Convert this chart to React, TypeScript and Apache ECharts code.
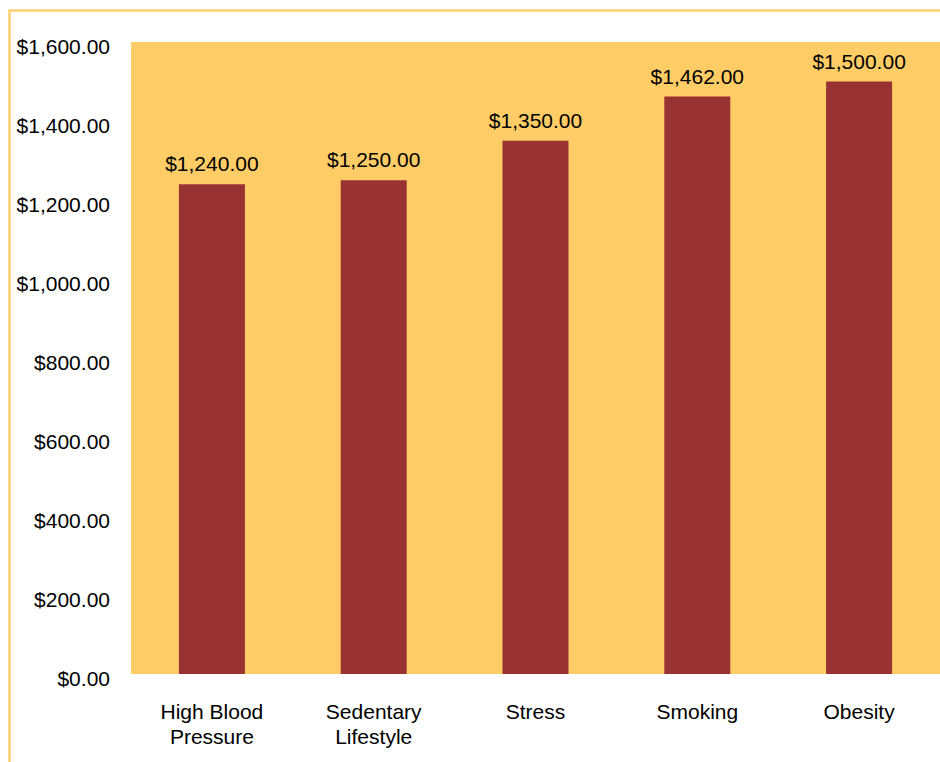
import React, { useEffect, useRef } from "react";
import * as echarts from "echarts";

const categories = ["High Blood\nPressure", "Sedentary\nLifestyle", "Stress", "Smoking", "Obesity"];
const costs = [1240, 1250, 1350, 1462, 1500];
const yMin = 0;
const yMax = 1600;
const yStep = 200;

const money = (v: number) =>
  "$" + v.toLocaleString("en-US", { minimumFractionDigits: 2, maximumFractionDigits: 2 });

export default function App() {
  const ref = useRef<HTMLDivElement>(null);
  useEffect(() => {
    if (!ref.current) return;
    const chart = echarts.init(ref.current, null, { renderer: "svg" });
    const font = "'Liberation Sans', Arial, Helvetica, sans-serif";
    chart.setOption({
      animation: false,
      backgroundColor: "#ffffff",
      textStyle: { fontFamily: font },
      graphic: [
        {
          type: "rect",
          shape: { x: 9.5, y: 10.5, width: 1000, height: 800 },
          style: { fill: "none", stroke: "#ffd070", lineWidth: 2.5 },
          silent: true,
          z: 0,
        },
      ],
      grid: {
        left: 131,
        right: -1,
        top: 42,
        bottom: 88,
        show: true,
        backgroundColor: "#ffcc66",
        borderWidth: 0,
      },
      xAxis: {
        type: "category",
        data: categories,
        axisLine: { show: false },
        axisTick: { show: false },
        axisLabel: {
          color: "#000",
          fontSize: 21,
          lineHeight: 25,
          margin: 25,
          fontFamily: font,
          interval: 0,
        },
      },
      yAxis: {
        type: "value",
        min: yMin,
        max: yMax,
        interval: yStep,
        axisLine: { show: false },
        axisTick: { show: false },
        splitLine: { show: false },
        axisLabel: {
          color: "#000",
          fontSize: 21,
          margin: 21,
          fontFamily: font,
          verticalAlign: "top",
          lineHeight: 8,
          formatter: (v: number) => money(v),
        },
      },
      series: [
        {
          type: "bar",
          data: costs,
          barWidth: 66,
          itemStyle: { color: "#993333" },
          label: {
            show: true,
            position: "top",
            distance: 10,
            color: "#000",
            fontSize: 21,
            fontFamily: font,
            formatter: (p: any) => money(p.value),
          },
        },
      ],
    });
    return () => chart.dispose();
  }, []);
  return (
    <div
      ref={ref}
      style={{ position: "fixed", left: 0, top: 0, width: 940, height: 762 }}
    />
  );
}
